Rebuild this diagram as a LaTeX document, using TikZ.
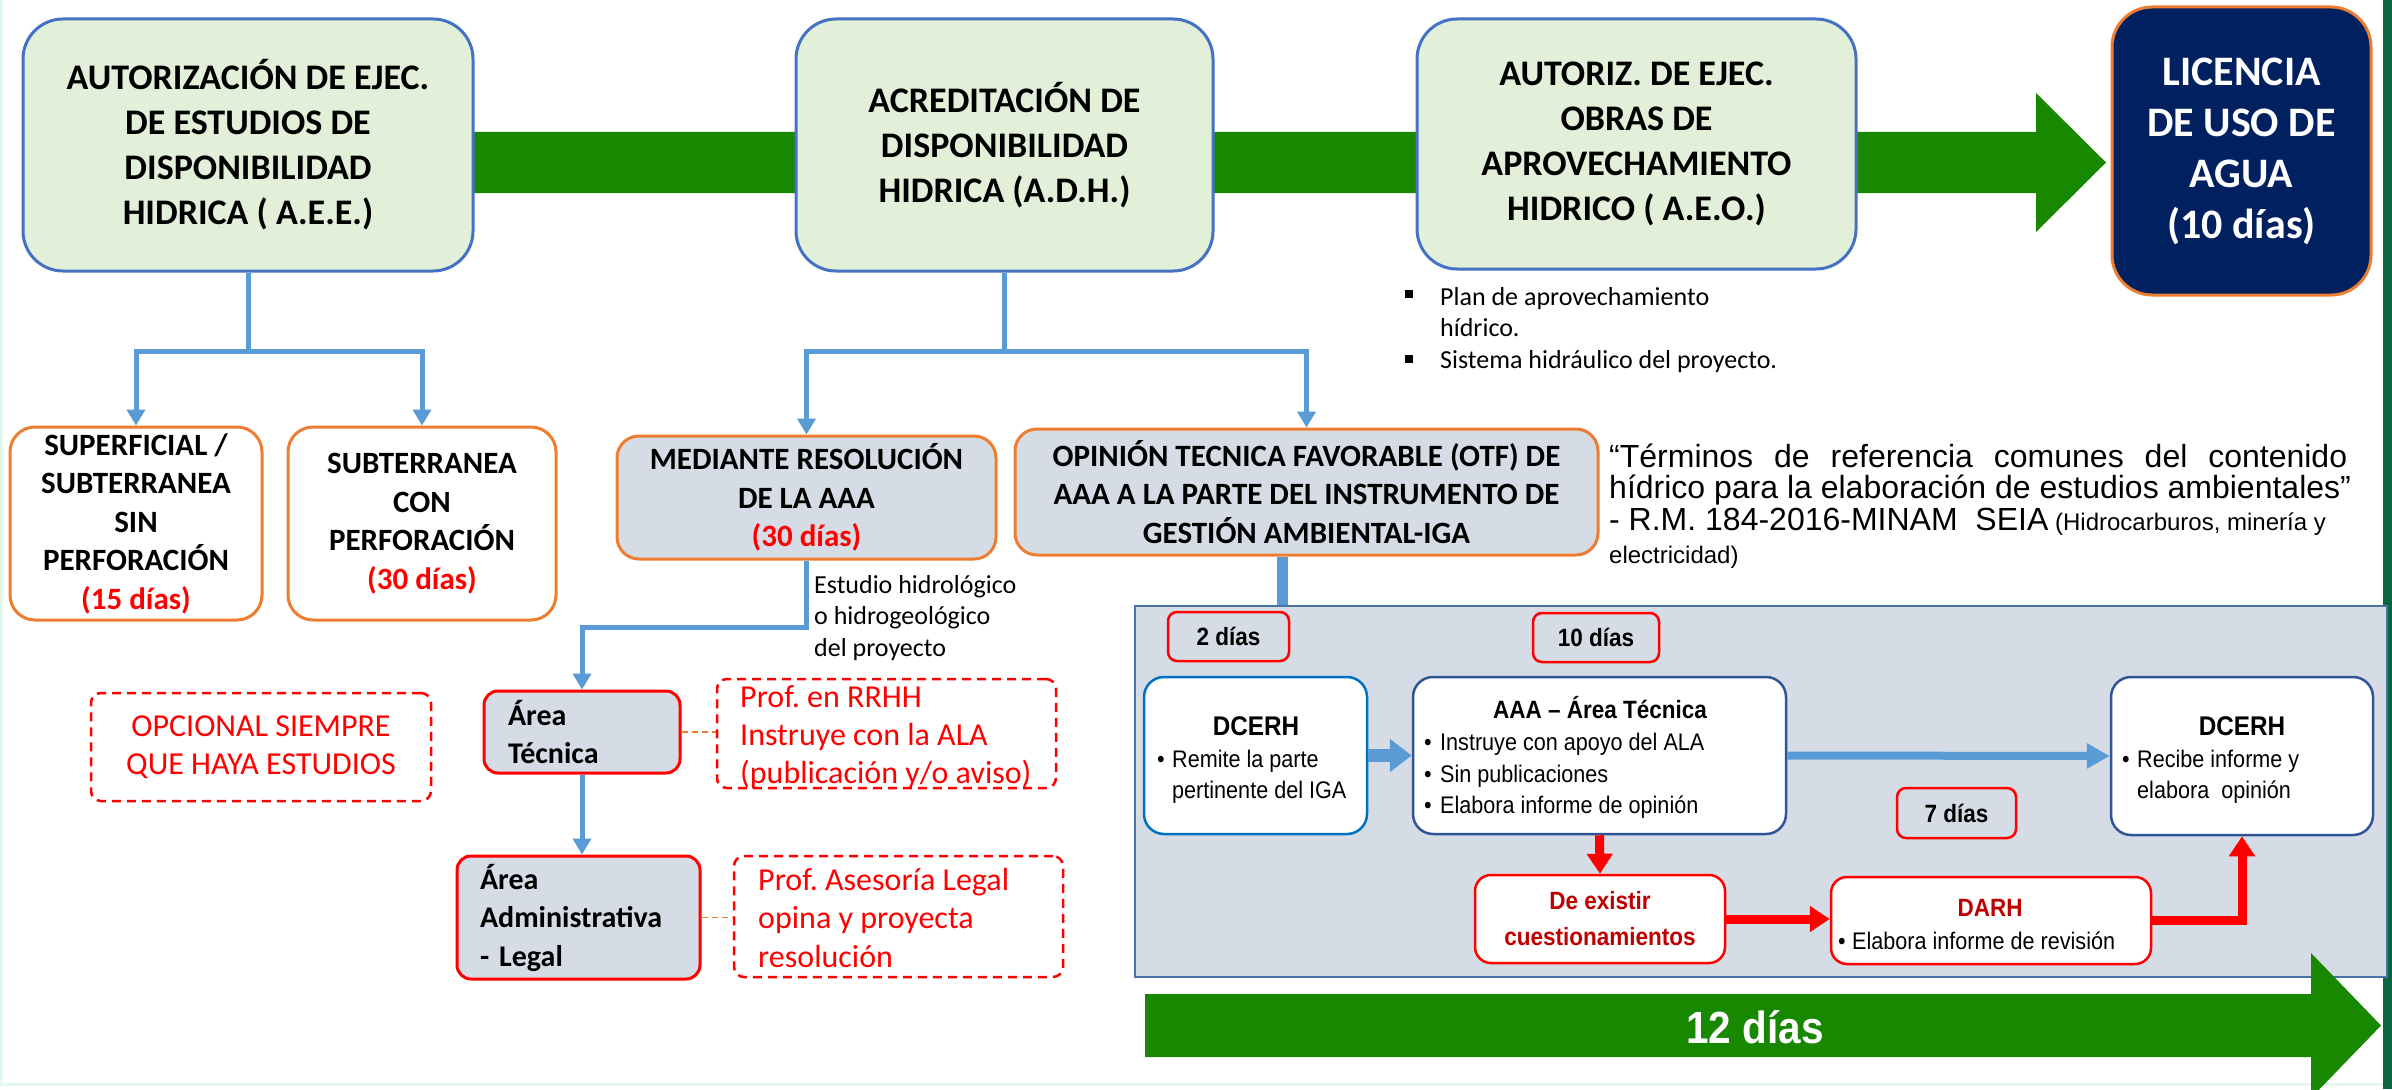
\documentclass[tikz,border=0pt]{standalone}
\usepackage{fontspec}
\setmainfont{Carlito}
\newfontfamily\arialf{Liberation Sans}
\newfontfamily\narrowf[FakeStretch=0.9]{Liberation Sans}
\usetikzlibrary{arrows.meta}
\definecolor{lgreen}{HTML}{E2F0D9}
\definecolor{topblue}{HTML}{4472C4}
\definecolor{orng}{HTML}{ED7D31}
\definecolor{grayfill}{HTML}{D6DCE5}
\definecolor{connblue}{HTML}{5B9BD5}
\definecolor{navy}{HTML}{002060}
\definecolor{bargreen}{HTML}{178800}
\definecolor{dkgreen}{HTML}{0A6640}
\definecolor{mint}{HTML}{E4F8EE}
\definecolor{panelborder}{HTML}{4A74A6}
\definecolor{brightblue}{HTML}{0070C0}
\definecolor{darkblue}{HTML}{2F5597}
\definecolor{dred}{HTML}{C00000}
\frenchspacing
\begin{document}
\frenchspacing
\begin{tikzpicture}[x=1pt,y=-1pt,
  topbox/.style={draw=topblue, fill=lgreen, line width=3pt, rounded corners=40pt, align=center, inner sep=0pt, font=\fontsize{36}{45}\selectfont\bfseries},
  licbox/.style={draw=orng, fill=navy, line width=3pt, rounded corners=40pt, align=center, inner sep=0pt, text=white, font=\fontsize{42}{51}\selectfont\bfseries},
  obox/.style={draw=orng, fill=white, line width=3pt, rounded corners=25pt, align=center, inner sep=0pt, font=\fontsize{31}{38.5}\selectfont\bfseries},
  gobox/.style={obox, fill=grayfill, rounded corners=22pt},
  areabox/.style={draw=red, fill=grayfill, line width=3pt, rounded corners=14pt, align=left, inner sep=0pt, font=\fontsize{30}{38.5}\selectfont\bfseries},
  dashbox/.style={draw=red, dash pattern=on 9pt off 6pt, line width=2.5pt, rounded corners=10pt, inner sep=0pt},
  redtxt/.style={text=red, font=\fontsize{32}{38}\selectfont, inner sep=0pt, anchor=base west},
  smalltxt/.style={font=\fontsize{26}{31}\selectfont, inner sep=0pt, anchor=base west},
  conn/.style={draw=connblue, line width=5pt},
  connarr/.style={conn, -{Triangle[length=16pt,width=18pt]}},
  odash/.style={draw=orng, line width=1.8pt, dash pattern=on 6pt off 4pt},
  wbox/.style={fill=white, line width=2.5pt, rounded corners=20pt, inner sep=0pt},
  dbox/.style={draw=red, fill=grayfill, line width=2.5pt, rounded corners=9pt, inner sep=0pt, font=\narrowf\fontsize{25}{30}\selectfont\bfseries},
  ptxt/.style={font=\narrowf\fontsize{24}{31}\selectfont, inner sep=0pt, anchor=base west},
  ptitle/.style={font=\narrowf\fontsize{25}{31}\selectfont\bfseries, inner sep=0pt, anchor=base},
  bigtitle/.style={font=\narrowf\fontsize{27}{31}\selectfont\bfseries, inner sep=0pt, anchor=base},
  termtxt/.style={font=\arialf\fontsize{32}{31}\selectfont, inner sep=0pt, anchor=base west},
  rarr/.style={draw=red, line width=9pt, -{Triangle[length=20pt,width=25pt]}},
]
\useasboundingbox (0,0) rectangle (2392,1089);
\clip (0,0) rectangle (2392,1089);
\fill[white] (0,0) rectangle (2392,1089);
\draw[mint, line width=3pt] (1.5,0) -- (1.5,1084) -- (2383,1084);
\fill[dkgreen] (2383,0) rectangle (2392,1089);

% main green arrow
\fill[bargreen] (460,132) -- (2036,132) -- (2036,93) -- (2106,162.5) -- (2036,232) -- (2036,193) -- (460,193) -- cycle;

% top row
\node[topbox, minimum width=450pt, minimum height=252pt] (aee) at (248,145) {AUTORIZACIÓN DE EJEC.\\DE ESTUDIOS DE\\DISPONIBILIDAD\\HIDRICA ( A.E.E.)};
\node[topbox, minimum width=417pt, minimum height=252pt] (adh) at (1004.5,145) {ACREDITACIÓN DE\\DISPONIBILIDAD\\HIDRICA (A.D.H.)};
\node[topbox, minimum width=439pt, minimum height=250pt] (aeo) at (1636.5,144) {AUTORIZ. DE EJEC.\\OBRAS DE\\APROVECHAMIENTO\\HIDRICO ( A.E.O.)};
\node[licbox, minimum width=259pt, minimum height=288pt] (lic) at (2241.5,151) {LICENCIA\\DE USO DE\\AGUA\\(10 días)};

% bullets under AEO
\fill (1405,290) rectangle (1413,298);
\node[smalltxt] (b1) at (1440,305) {Plan de aprovechamiento};
\node[smalltxt] (b2) at (1440,336) {hídrico.};
\fill (1405,355) rectangle (1413,363);
\node[smalltxt] (b3) at (1440,368) {Sistema hidráulico del proyecto.};

% second row
\node[obox, minimum width=252pt, minimum height=193pt] (sup) at (136,523.5) {SUPERFICIAL /\\SUBTERRANEA\\SIN\\PERFORACIÓN\\{\color{red}(15 días)}};
\node[obox, minimum width=268pt, minimum height=193pt] (sub) at (422,523.5) {SUBTERRANEA\\CON\\PERFORACIÓN\\{\color{red}(30 días)}};
\node[gobox, minimum width=379pt, minimum height=123pt] (med) at (806.5,497.5) {MEDIANTE RESOLUCIÓN\\DE LA AAA\\{\color{red}(30 días)}};
\node[gobox, minimum width=583pt, minimum height=126pt] (otf) at (1306.5,492) {OPINIÓN TECNICA FAVORABLE (OTF) DE\\AAA A LA PARTE DEL INSTRUMENTO DE\\GESTIÓN AMBIENTAL-IGA};

% connectors top
\coordinate (j1) at (248,351);
\draw[conn] (aee.south) -- (j1);
\draw[connarr] (j1) -| (sup.north);
\draw[connarr] (j1) -| (sub.north);
\coordinate (j2) at (1004.5,351);
\draw[conn] (adh.south) -- (j2);
\draw[connarr] (j2) -| (med.north);
\draw[connarr] (j2) -| (otf.north);

% terms text
\node[termtxt] (tr1) at (1609,467) {\makebox[738pt][s]{“Términos de referencia comunes del contenido}};
\node[termtxt] (tr2) at (1609,498) {hídrico para la elaboración de estudios ambientales”};
\node[termtxt] (tr3) at (1609,530) {- R.M. 184-2016-MINAM\ \ SEIA{\fontsize{24}{28}\selectfont\ (Hidrocarburos, minería y}};
\node[termtxt, font=\arialf\fontsize{24}{28}\selectfont] (tr4) at (1609,563) {electricidad)};

% left lower part
\node[smalltxt] (est1) at (814,593) {Estudio hidrológico};
\node[smalltxt] (est2) at (814,624) {o hidrogeológico};
\node[smalltxt] (est3) at (814,656) {del proyecto};

\node[areabox, minimum width=196pt, minimum height=82pt, text width=148pt] (at) at (582,732) {Área\\Técnica};
\node[areabox, minimum width=243pt, minimum height=123pt, text width=197pt] (adm) at (578.5,917.5) {Área\\Administrativa\\- Legal};
\draw[connarr] (med.south) -- ++(0,67) -| (at.north);
\draw[connarr] (at.south) -- (at.south |- adm.north);

\node[dashbox, minimum width=340pt, minimum height=108pt, align=center, text=red, font=\fontsize{32}{38}\selectfont] (opc) at (261,747) {OPCIONAL SIEMPRE\\QUE HAYA ESTUDIOS};
\node[dashbox, minimum width=339pt, minimum height=109pt] (rrhh) at (886.5,733.5) {};
\node[redtxt] (rrhh1) at (740,707) {Prof. en RRHH};
\node[redtxt] (rrhh2) at (740,745) {Instruye con la ALA};
\node[redtxt] (rrhh3) at (740,783) {(publicación y/o aviso)};
\node[dashbox, minimum width=329pt, minimum height=121pt] (leg) at (898.5,916.5) {};
\node[redtxt] (leg1) at (758,890) {Prof. Asesoría Legal};
\node[redtxt] (leg2) at (758,928) {opina y proyecta};
\node[redtxt] (leg3) at (758,967) {resolución};
\draw[odash] (at.east) -- (at.east -| rrhh.west);
\draw[odash] (adm.east) -- (adm.east -| leg.west);

% panel
\node[draw=panelborder, fill=grayfill, line width=2.5pt, minimum width=1252pt, minimum height=371pt, inner sep=0pt] (panel) at (1761,791.5) {};
\draw[connblue, line width=11pt] ([xshift=-24.5pt]otf.south) -- ([xshift=-24.5pt]otf.south |- panel.north);

\node[dbox, minimum width=121pt, minimum height=49pt] (d2) at (1228.5,636.5) {2 días};
\node[dbox, minimum width=126pt, minimum height=49pt] (d10) at (1596,637.5) {10 días};
\node[dbox, minimum width=119pt, minimum height=50pt] (d7) at (1956.5,813) {7 días};

\node[wbox, draw=brightblue, minimum width=223pt, minimum height=157pt] (dc1) at (1255.5,755.5) {};
\node[wbox, draw=darkblue, minimum width=373pt, minimum height=157pt] (aaa) at (1599.5,755.5) {};
\node[wbox, draw=darkblue, minimum width=262pt, minimum height=158pt] (dc2) at (2242,756) {};
\node[wbox, draw=red, minimum width=250pt, minimum height=88pt, rounded corners=16pt, align=center, text=dred, font=\narrowf\fontsize{25}{36}\selectfont\bfseries] (dex) at (1600,919) {De existir\\cuestionamientos};
\node[wbox, draw=red, minimum width=320pt, minimum height=87pt, rounded corners=16pt] (darh) at (1991,920.5) {};

\node[bigtitle] (dc1t) at (1256,735) {DCERH};
\node[ptxt] (dc1a) at (1157,767) {•};
\node[ptxt] (dc1b) at (1172,767) {Remite la parte};
\node[ptxt] (dc1c) at (1172,798) {pertinente del IGA};

\node[ptitle] (aaat) at (1600,718) {AAA – Área Técnica};
\node[ptxt] (aaa1) at (1424,750) {•};
\node[ptxt] (aaa2) at (1440,750) {Instruye con apoyo del ALA};
\node[ptxt] (aaa3) at (1424,782) {•};
\node[ptxt] (aaa4) at (1440,782) {Sin publicaciones};
\node[ptxt] (aaa5) at (1424,813) {•};
\node[ptxt] (aaa6) at (1440,813) {Elabora informe de opinión};

\node[bigtitle] (dc2t) at (2242,735) {DCERH};
\node[ptxt] (dc2a) at (2122,767) {•};
\node[ptxt] (dc2b) at (2137,767) {Recibe informe y};
\node[ptxt] (dc2c) at (2137,798) {elabora\ \ opinión};

\node[ptitle, text=dred] (darht) at (1990,916) {DARH};
\node[ptxt] (darh1) at (1838,949) {•};
\node[ptxt] (darh2) at (1852,949) {Elabora informe de revisión};

\draw[draw=connblue, line width=13pt, -{Triangle[length=22pt,width=32pt]}] (dc1.east) -- (aaa.west);
\draw[draw=connblue, line width=8pt, -{Triangle[length=23pt,width=24pt]}] (aaa.east) -- (dc2.west);
\draw[rarr] (aaa.south) -- (dex.north);
\draw[rarr] (dex.east) -- (dex.east -| darh.west);
\draw[rarr] (darh.east) -| (dc2.south);

% bottom green arrow
\fill[bargreen] (1145,994) -- (2311,994) -- (2311,953) -- (2381,1025.5) -- (2311,1098) -- (2311,1057) -- (1145,1057) -- cycle;
\node[font=\narrowf\fontsize{45}{50}\selectfont\bfseries, text=white, anchor=base, inner sep=0pt] (d12) at (1755,1043) {12 días};
\end{tikzpicture}
\end{document}
